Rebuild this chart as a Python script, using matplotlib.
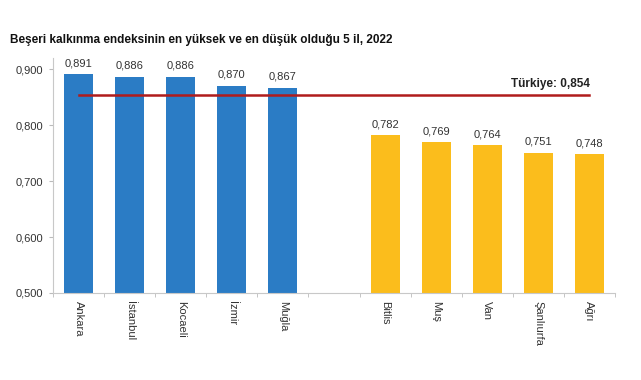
import matplotlib.pyplot as plt
import numpy as np

plt.rcParams['font.family'] = ['Liberation Sans', 'DejaVu Sans']

# Veriler
iller_yuksek = ["Ankara", "İstanbul", "Kocaeli", "İzmir", "Muğla"]
degerler_yuksek = [0.891, 0.886, 0.886, 0.870, 0.867]
iller_dusuk = ["Bitlis", "Muş", "Van", "Şanlıurfa", "Ağrı"]
degerler_dusuk = [0.782, 0.769, 0.764, 0.751, 0.748]
turkiye = 0.854
y_ticks = [0.5, 0.6, 0.7, 0.8, 0.9]

fig = plt.figure(figsize=(6.41, 3.8), dpi=100)
ax = fig.add_axes([53 / 641, 1 - 293 / 380, 562 / 641, 235 / 380])

x_yuksek = np.arange(len(iller_yuksek))
x_dusuk = np.arange(len(iller_dusuk)) + len(iller_yuksek) + 1

ax.bar(x_yuksek, degerler_yuksek, width=0.57, color="#2b7cc5")
ax.bar(x_dusuk, degerler_dusuk, width=0.57, color="#fbbd1c")

# Değer etiketleri
for x, v in zip(list(x_yuksek) + list(x_dusuk), degerler_yuksek + degerler_dusuk):
    ax.text(x, v + 0.011, f"{v:.3f}".replace(".", ","), ha="center", va="bottom",
            fontsize=8, color="#333333")

# Türkiye çizgisi
ax.plot([x_yuksek[0], x_dusuk[-1]], [turkiye, turkiye], color="#b01c1c", lw=1.8)
ax.text(x_dusuk[-1], turkiye + 0.008, f"Türkiye: {turkiye:.3f}".replace(".", ","),
        ha="right", va="bottom", fontsize=8.5, fontweight="bold", color="#222222")

ax.set_xlim(-0.5, x_dusuk[-1] + 0.5)
ax.set_ylim(0.5, 0.92)
ax.set_yticks(y_ticks)
ax.set_yticklabels([f"{t:.3f}".replace(".", ",") for t in y_ticks], fontsize=8, color="#333333")

ax.set_xticks(list(x_yuksek) + list(x_dusuk))
ax.set_xticklabels(iller_yuksek + iller_dusuk, rotation=-90, fontsize=8, color="#333333")
ax.tick_params(axis="x", which="major", length=0, pad=6)
ax.set_xticks(np.arange(-0.5, x_dusuk[-1] + 1, 1), minor=True)
ax.tick_params(axis="x", which="minor", length=3, color="#bbbbbb", direction="out")
ax.tick_params(axis="y", length=3, color="#bbbbbb", pad=4)

for s in ["top", "right"]:
    ax.spines[s].set_visible(False)
for s in ["left", "bottom"]:
    ax.spines[s].set_color("#c8c8c8")

fig.text(10 / 641, 1 - 40 / 380, "Beşeri kalkınma endeksinin en yüksek ve en düşük olduğu 5 il, 2022",
         fontsize=8.5, fontweight="bold", color="#111111", va="center")

fig.savefig("out.png", dpi=100, facecolor="white")
